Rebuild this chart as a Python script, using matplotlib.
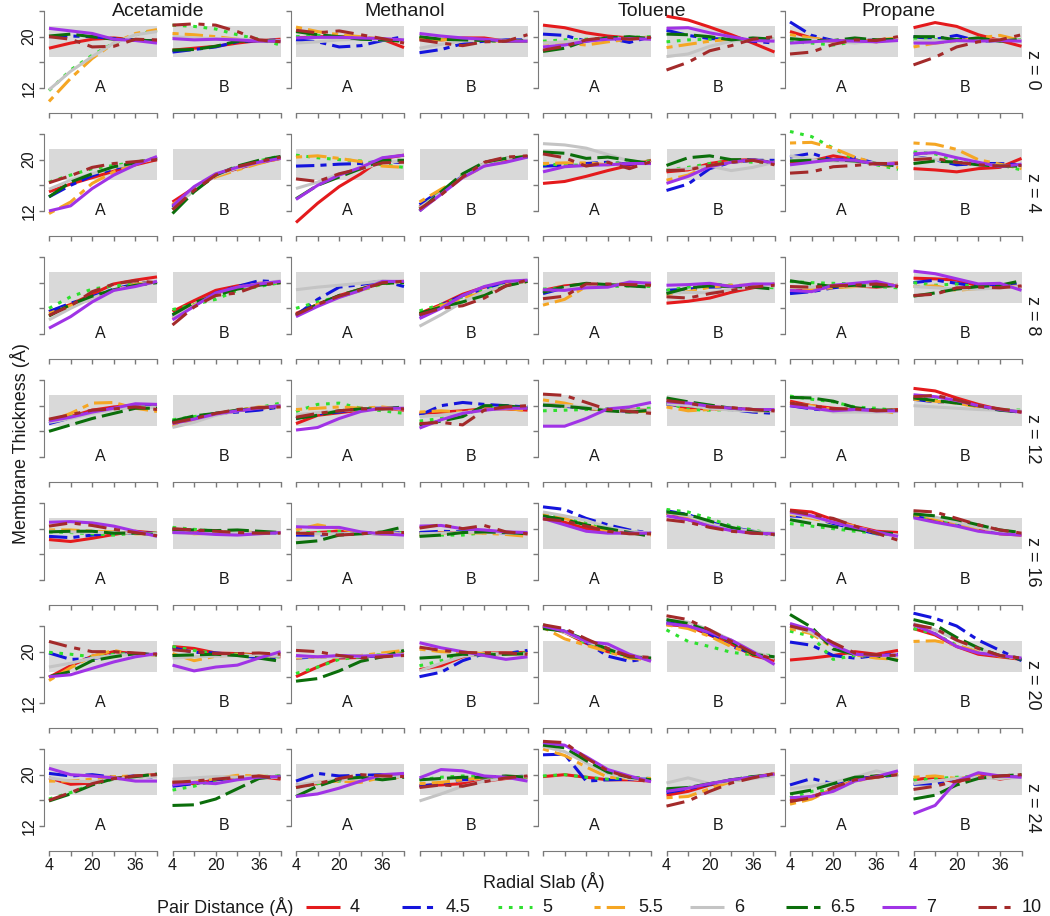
import numpy as np
import matplotlib.pyplot as plt
from matplotlib.lines import Line2D

plt.rcParams['font.family'] = ['Liberation Sans', 'DejaVu Sans']

# ---- data ----
MOLECULES = ["Acetamide", "Methanol", "Toluene", "Propane"]
SIDES = ["A", "B"]
Z_LEVELS = [0, 4, 8, 12, 16, 20, 24]
PAIR_DISTANCES = ["4", "4.5", "5", "5.5", "6", "6.5", "7", "10"]
RADIAL_SLAB = [4, 12, 20, 28, 36, 44]
BAND_LOW, BAND_HIGH = 16.9, 21.7

# each array: 7 z-levels x 8 pair distances x 6 radial slabs
ACETAMIDE_A = [
    [[18.2, 19.0, 19.6, 19.8, 19.5, 19.3], [20.0, 20.1, 20.0, 19.7, 19.5, 19.3],
     [11.6, 14.8, 17.1, 19.0, 20.3, 21.0], [9.9, 13.5, 16.6, 19.0, 20.5, 21.1],
     [11.7, 14.6, 16.9, 19.0, 20.3, 20.8], [20.1, 20.4, 20.0, 19.6, 19.5, 19.3],
     [21.3, 20.9, 20.5, 19.6, 19.4, 19.0], [20.0, 19.6, 18.4, 18.5, 19.6, 19.5]],
    [[15.0, 16.2, 17.2, 18.2, 19.2, 20.0], [14.2, 16.0, 17.5, 18.6, 19.4, 20.3],
     [16.5, 17.6, 18.6, 19.1, 19.6, 20.3], [11.6, 13.4, 16.3, 18.1, 19.3, 20.3],
     [15.4, 16.8, 17.8, 18.8, 19.5, 20.2], [14.2, 16.5, 17.8, 18.9, 19.5, 20.2],
     [12.0, 12.8, 15.5, 17.6, 19.2, 20.5], [16.4, 17.5, 18.8, 19.4, 19.7, 20.0]],
    [[15.5, 16.6, 18.2, 19.8, 20.4, 20.9], [15.5, 16.8, 17.8, 19.0, 19.8, 20.2],
     [16.0, 17.8, 19.0, 19.5, 19.8, 20.1], [15.2, 16.4, 17.5, 18.8, 19.8, 20.1],
     [14.2, 16.0, 17.6, 18.8, 19.6, 20.2], [14.8, 16.6, 17.9, 18.9, 19.6, 20.0],
     [12.9, 14.7, 17.0, 18.8, 19.4, 20.2], [14.9, 16.4, 18.6, 19.8, 20.3, 20.0]],
    [[17.8, 18.3, 19.3, 19.8, 20.1, 19.9], [17.2, 18.1, 19.0, 19.6, 19.9, 20.0],
     [17.6, 18.3, 19.0, 19.5, 19.8, 20.0], [17.5, 18.8, 20.4, 20.5, 19.6, 19.1],
     [17.4, 18.0, 18.8, 19.4, 19.8, 19.7], [16.0, 17.0, 18.0, 18.8, 19.6, 19.6],
     [17.6, 18.2, 19.0, 19.6, 20.3, 20.2], [17.9, 18.6, 19.3, 19.5, 19.8, 19.4]],
    [[18.3, 18.0, 18.5, 19.1, 19.6, 19.3], [18.8, 18.6, 19.0, 19.3, 19.3, 19.3],
     [19.5, 19.4, 19.2, 19.0, 19.3, 19.3], [19.8, 19.8, 19.6, 19.5, 19.2, 19.2],
     [19.6, 19.5, 19.4, 19.4, 19.3, 19.2], [19.5, 19.6, 19.6, 19.3, 19.3, 19.1],
     [21.0, 21.1, 20.9, 20.4, 19.6, 18.8], [20.4, 20.9, 20.5, 19.9, 19.4, 18.9]],
    [[16.0, 17.8, 19.3, 20.0, 19.7, 19.5], [19.8, 18.8, 18.9, 19.5, 19.7, 19.5],
     [19.9, 19.6, 19.2, 19.6, 19.7, 19.5], [15.5, 17.5, 19.3, 20.2, 19.5, 19.5],
     [17.6, 18.2, 19.0, 19.4, 19.6, 19.5], [16.1, 16.9, 18.6, 19.2, 19.7, 19.5],
     [16.1, 16.4, 17.4, 18.4, 19.2, 19.7], [21.6, 20.7, 20.0, 20.0, 19.8, 19.6]],
    [[19.5, 18.5, 18.7, 19.4, 19.8, 20.0], [20.2, 19.8, 20.0, 19.6, 19.8, 19.6],
     [16.2, 17.2, 18.5, 19.3, 19.6, 19.8], [19.0, 19.0, 19.3, 19.7, 19.8, 19.9],
     [19.5, 19.0, 18.9, 19.3, 19.6, 19.7], [15.9, 17.0, 18.4, 19.4, 19.7, 20.1],
     [21.0, 20.0, 19.8, 19.5, 19.0, 19.0], [16.0, 17.2, 18.6, 19.4, 19.8, 20.0]],
]

ACETAMIDE_B = [
    [[17.9, 18.2, 18.5, 19.0, 19.4, 19.6], [17.6, 18.0, 18.4, 19.2, 19.4, 19.5],
     [21.8, 21.6, 21.2, 20.3, 19.6, 18.7], [20.5, 20.3, 20.0, 19.6, 19.4, 19.3],
     [20.0, 19.8, 19.7, 19.6, 19.5, 19.4], [17.9, 18.0, 18.5, 19.3, 19.4, 19.3],
     [19.7, 19.5, 19.6, 19.5, 19.3, 19.3], [21.8, 22.0, 21.8, 20.8, 19.5, 19.2]],
    [[13.4, 15.6, 17.6, 18.6, 19.5, 20.2], [12.6, 15.5, 17.5, 18.7, 19.6, 20.4],
     [12.2, 15.3, 17.6, 18.9, 19.8, 20.6], [13.0, 15.4, 17.3, 18.4, 19.4, 20.2],
     [12.3, 15.3, 17.5, 18.7, 19.6, 20.3], [11.6, 15.0, 17.6, 19.0, 19.9, 20.5],
     [12.8, 15.8, 17.8, 18.8, 19.6, 20.2], [12.2, 15.2, 17.6, 18.9, 19.7, 20.4]],
    [[15.5, 17.2, 18.8, 19.5, 19.9, 20.0], [14.8, 16.4, 18.4, 19.4, 20.3, 20.1],
     [15.8, 16.6, 17.4, 18.8, 19.4, 20.0], [14.5, 16.5, 18.2, 19.3, 19.8, 20.1],
     [14.6, 16.4, 18.2, 19.2, 19.8, 20.3], [15.0, 16.9, 18.0, 19.0, 19.6, 20.0],
     [14.2, 16.3, 18.4, 19.3, 19.8, 20.2], [13.4, 16.2, 18.0, 18.4, 19.6, 20.0]],
    [[17.4, 18.0, 18.6, 19.2, 19.6, 19.9], [17.5, 18.1, 18.8, 19.0, 19.3, 19.8],
     [17.8, 18.3, 18.8, 19.3, 19.7, 20.4], [16.8, 17.8, 18.6, 19.3, 19.8, 19.8],
     [16.6, 17.4, 18.5, 19.2, 19.7, 20.0], [17.6, 18.4, 18.8, 19.3, 19.6, 20.0],
     [17.2, 17.9, 18.7, 19.2, 19.6, 20.0], [17.3, 18.0, 18.8, 19.4, 19.7, 19.8]],
    [[19.7, 19.6, 19.4, 19.3, 19.4, 19.4], [19.5, 19.4, 19.3, 19.3, 19.4, 19.3],
     [20.2, 19.9, 19.6, 19.4, 19.3, 19.4], [19.7, 19.2, 19.3, 19.5, 19.4, 19.4],
     [19.4, 19.3, 19.3, 19.4, 19.3, 19.4], [19.9, 19.8, 19.7, 19.8, 19.6, 19.4],
     [19.4, 19.3, 19.1, 19.0, 19.2, 19.4], [20.0, 19.8, 19.6, 19.4, 19.3, 19.3]],
    [[20.8, 20.5, 19.8, 19.7, 19.5, 19.2], [20.6, 19.9, 19.8, 19.5, 19.0, 18.8],
     [20.8, 20.2, 19.7, 19.6, 19.3, 19.2], [19.7, 18.6, 19.3, 19.5, 19.4, 19.3],
     [19.0, 19.2, 19.3, 19.4, 19.4, 19.3], [19.4, 19.5, 19.6, 19.4, 19.0, 18.5],
     [17.9, 17.0, 17.6, 17.9, 19.0, 20.0], [20.3, 20.0, 19.7, 19.7, 19.8, 19.6]],
    [[18.9, 18.6, 19.2, 19.5, 19.7, 19.3], [18.2, 18.6, 19.2, 19.5, 19.6, 19.7],
     [17.6, 18.2, 19.2, 19.5, 19.7, 19.8], [18.6, 18.8, 19.4, 19.9, 19.8, 19.6],
     [19.3, 19.5, 19.7, 19.6, 19.6, 19.6], [15.2, 15.3, 16.2, 17.8, 19.4, 19.8],
     [18.4, 18.8, 18.6, 19.2, 19.6, 19.7], [18.8, 19.0, 19.3, 19.6, 19.8, 19.4]],
]

METHANOL_A = [
    [[19.8, 20.0, 20.0, 19.8, 19.6, 18.3], [19.5, 19.2, 18.4, 18.6, 19.4, 20.0],
     [20.0, 20.2, 20.0, 19.8, 19.6, 19.4], [21.5, 20.8, 20.3, 20.0, 19.6, 19.2],
     [19.0, 19.2, 19.5, 19.6, 19.5, 19.4], [20.8, 20.3, 20.0, 19.6, 19.5, 19.3],
     [19.8, 19.9, 19.9, 19.8, 19.7, 19.5], [21.0, 20.6, 20.9, 20.3, 19.7, 19.0]],
    [[10.2, 13.2, 15.8, 17.8, 20.2, 20.7], [19.0, 19.1, 19.3, 19.4, 19.8, 19.5],
     [20.7, 20.3, 20.0, 19.8, 19.2, 18.8], [20.4, 20.6, 20.2, 19.7, 19.0, 18.8],
     [15.5, 16.5, 17.8, 18.5, 19.6, 19.8], [13.9, 16.0, 17.3, 18.6, 19.9, 19.9],
     [13.8, 16.0, 17.6, 18.8, 20.3, 20.7], [17.0, 16.6, 17.8, 18.6, 19.5, 19.6]],
    [[15.2, 16.6, 18.0, 19.0, 20.1, 20.2], [14.9, 17.4, 19.3, 19.7, 20.3, 19.4],
     [16.0, 17.0, 17.8, 18.8, 19.8, 20.1], [14.8, 16.6, 17.8, 18.8, 19.9, 20.2],
     [18.9, 19.3, 19.6, 19.9, 20.3, 20.0], [15.0, 16.6, 18.0, 19.0, 19.9, 20.0],
     [14.7, 16.3, 17.7, 18.8, 20.2, 20.2], [15.0, 16.6, 17.9, 18.9, 20.0, 20.2]],
    [[17.2, 18.5, 18.9, 19.3, 19.6, 19.3], [18.0, 18.7, 19.0, 19.6, 19.6, 19.7],
     [19.1, 20.2, 20.4, 19.6, 19.2, 18.8], [19.4, 19.6, 19.8, 19.6, 19.8, 19.4],
     [18.6, 18.9, 19.2, 19.4, 19.5, 19.5], [18.0, 18.5, 19.2, 19.5, 19.5, 19.8],
     [16.2, 16.6, 18.0, 19.1, 19.6, 19.6], [18.2, 18.8, 19.2, 19.5, 19.5, 19.5]],
    [[19.2, 19.4, 19.6, 19.3, 19.2, 19.3], [19.0, 19.0, 19.2, 19.3, 19.2, 19.4],
     [19.4, 19.4, 19.6, 19.3, 19.3, 19.4], [19.8, 20.6, 20.0, 19.4, 19.2, 19.2],
     [19.3, 19.2, 19.2, 19.3, 19.2, 19.2], [17.8, 18.1, 19.0, 19.2, 19.5, 20.3],
     [20.3, 20.2, 20.2, 19.5, 19.2, 19.0], [19.3, 19.2, 19.0, 19.2, 19.4, 19.4]],
    [[16.1, 17.6, 19.0, 19.1, 19.5, 19.8], [19.0, 19.2, 19.2, 19.2, 19.4, 19.6],
     [16.6, 17.6, 18.8, 19.2, 19.6, 19.8], [19.0, 19.2, 19.1, 19.4, 19.8, 20.2],
     [19.2, 19.2, 19.2, 19.3, 19.5, 19.6], [15.4, 15.8, 17.0, 18.5, 19.2, 20.2],
     [19.4, 19.2, 19.4, 19.3, 19.4, 19.5], [20.2, 20.0, 19.4, 19.0, 19.2, 19.4]],
    [[18.4, 18.6, 19.2, 19.4, 19.8, 19.8], [19.0, 20.2, 19.8, 19.9, 20.0, 19.5],
     [18.0, 18.6, 19.0, 19.4, 19.6, 19.8], [18.2, 18.8, 19.0, 18.8, 19.6, 19.6],
     [18.4, 18.8, 19.2, 19.4, 19.6, 19.7], [16.6, 18.2, 19.3, 19.6, 19.2, 19.6],
     [16.6, 17.0, 17.9, 19.0, 20.0, 20.2], [18.0, 18.6, 19.4, 20.0, 19.8, 19.7]],
]

METHANOL_B = [
    [[19.8, 19.5, 19.8, 19.8, 19.3, 19.3], [17.5, 18.0, 18.9, 19.3, 19.5, 19.5],
     [19.8, 19.6, 19.5, 19.4, 19.3, 19.3], [19.6, 19.5, 19.6, 19.4, 19.3, 19.3],
     [18.2, 18.8, 19.3, 19.5, 19.4, 19.4], [20.0, 19.6, 19.5, 19.4, 19.3, 19.4],
     [20.5, 20.1, 19.8, 19.6, 19.3, 19.3], [19.5, 19.0, 18.6, 19.2, 19.3, 20.3]],
    [[12.6, 15.0, 17.3, 19.4, 20.0, 20.5], [13.0, 15.2, 17.4, 19.2, 20.2, 20.4],
     [12.4, 15.0, 17.6, 19.4, 20.1, 20.5], [13.4, 15.4, 17.2, 19.0, 20.2, 20.5],
     [12.5, 14.8, 17.4, 19.4, 20.2, 20.4], [12.0, 15.0, 17.8, 19.6, 20.2, 20.5],
     [12.0, 14.6, 17.2, 19.0, 19.6, 20.4], [12.3, 14.5, 17.3, 19.6, 20.4, 20.6]],
    [[15.2, 16.6, 18.2, 19.3, 20.0, 20.2], [14.8, 16.5, 18.0, 19.0, 20.0, 20.3],
     [15.6, 16.6, 17.8, 18.8, 19.7, 20.2], [15.0, 16.4, 17.6, 18.5, 19.6, 20.2],
     [13.2, 15.0, 17.0, 18.6, 19.6, 20.3], [15.2, 16.2, 17.0, 18.0, 19.5, 20.2],
     [14.4, 16.0, 18.0, 19.4, 20.2, 20.4], [15.0, 16.0, 16.4, 17.6, 19.5, 20.4]],
    [[18.8, 19.0, 19.2, 19.5, 19.5, 19.3], [18.5, 20.0, 20.5, 20.2, 20.0, 19.8],
     [17.6, 18.0, 18.6, 19.6, 19.8, 19.9], [19.0, 19.2, 19.0, 19.4, 19.6, 19.2],
     [18.3, 18.5, 18.9, 19.3, 19.6, 19.7], [17.0, 17.6, 18.3, 20.0, 20.0, 19.6],
     [16.5, 17.8, 18.8, 19.3, 19.6, 19.6], [17.2, 17.4, 17.0, 19.3, 19.8, 20.0]],
    [[19.4, 19.4, 19.4, 19.5, 19.4, 19.2], [19.4, 19.6, 19.5, 19.6, 19.3, 19.2],
     [19.2, 19.0, 19.0, 19.4, 19.4, 19.3], [19.0, 19.3, 19.4, 19.3, 19.1, 18.8],
     [19.2, 19.3, 19.4, 19.5, 19.3, 19.2], [18.8, 19.0, 19.4, 19.5, 19.4, 19.2],
     [20.4, 20.5, 20.0, 19.8, 19.5, 19.4], [20.1, 20.6, 20.0, 20.5, 19.5, 19.2]],
    [[17.2, 17.8, 19.2, 19.8, 19.8, 19.9], [16.1, 16.8, 18.6, 19.7, 19.7, 20.2],
     [17.8, 18.6, 19.4, 19.7, 19.7, 19.8], [20.4, 20.0, 19.9, 19.7, 19.6, 19.6],
     [17.0, 18.2, 19.3, 19.6, 19.7, 19.6], [19.0, 19.2, 19.6, 19.5, 19.6, 19.7],
     [21.4, 20.6, 20.0, 19.4, 18.8, 19.2], [20.7, 20.2, 19.9, 19.8, 19.8, 19.6]],
    [[18.3, 18.4, 18.6, 19.0, 19.4, 19.6], [18.2, 18.6, 19.2, 19.4, 19.6, 19.8],
     [19.2, 19.6, 19.8, 19.7, 19.7, 19.6], [18.6, 18.8, 19.2, 19.5, 19.6, 19.7],
     [15.9, 17.0, 18.2, 19.0, 19.5, 19.7], [19.2, 19.4, 19.6, 19.6, 19.8, 19.6],
     [19.5, 20.8, 20.6, 19.8, 19.6, 19.0], [18.0, 18.4, 18.2, 18.9, 19.5, 19.8]],
]

TOLUENE_A = [
    [[21.8, 21.4, 20.6, 20.1, 19.8, 19.7], [20.4, 20.2, 19.3, 19.8, 19.1, 20.0],
     [19.3, 19.5, 19.6, 19.8, 19.9, 20.0], [19.0, 19.0, 18.7, 19.2, 19.6, 20.0],
     [19.0, 19.2, 19.4, 19.6, 19.8, 19.8], [17.7, 18.2, 19.4, 19.8, 20.0, 19.7],
     [18.4, 18.7, 19.3, 19.6, 19.7, 19.6], [17.9, 18.5, 19.5, 19.9, 19.6, 19.9]],
    [[16.3, 16.6, 17.4, 18.3, 19.1, 19.9], [19.0, 19.1, 19.4, 19.6, 19.3, 19.6],
     [19.3, 19.2, 19.1, 19.4, 19.6, 19.8], [19.4, 19.5, 19.5, 19.2, 19.4, 19.7],
     [22.5, 22.3, 21.8, 20.8, 19.8, 19.5], [21.2, 21.0, 20.2, 20.4, 19.9, 19.4],
     [18.1, 18.9, 19.1, 19.2, 19.4, 19.4], [20.9, 20.3, 19.0, 19.6, 18.6, 19.7]],
    [[18.8, 19.5, 19.8, 19.6, 19.8, 19.9], [18.3, 19.2, 19.7, 19.6, 19.8, 19.9],
     [19.0, 19.2, 19.7, 19.4, 19.5, 19.4], [16.5, 17.4, 19.4, 19.6, 19.9, 19.7],
     [18.6, 19.2, 19.6, 19.7, 19.6, 19.8], [18.5, 19.4, 19.9, 19.7, 19.5, 19.3],
     [18.9, 18.8, 19.2, 19.3, 20.1, 19.9], [17.5, 17.9, 19.8, 19.8, 19.7, 19.6]],
    [[20.2, 20.0, 19.6, 19.3, 19.3, 19.3], [20.1, 19.9, 19.6, 19.3, 19.1, 19.1],
     [19.2, 19.3, 19.4, 19.5, 19.5, 19.6], [20.9, 20.4, 19.6, 19.3, 19.1, 19.1],
     [20.2, 20.0, 19.8, 19.3, 19.2, 19.3], [20.1, 19.9, 19.6, 19.2, 19.0, 19.3],
     [16.8, 16.8, 18.0, 19.5, 19.8, 20.5], [21.8, 21.6, 20.5, 19.4, 19.1, 18.8]],
    [[21.8, 21.0, 20.0, 19.6, 19.4, 19.2], [23.4, 23.0, 21.6, 20.6, 19.8, 19.3],
     [22.2, 21.8, 21.0, 20.0, 19.6, 19.2], [22.4, 21.6, 20.6, 19.6, 19.4, 19.0],
     [22.6, 22.0, 21.3, 20.2, 19.6, 19.3], [22.0, 21.4, 20.6, 20.0, 19.4, 18.8],
     [21.6, 20.6, 19.6, 19.3, 19.3, 19.3], [21.5, 21.2, 20.4, 19.6, 19.2, 19.2]],
    [[24.0, 23.0, 21.3, 20.0, 19.4, 18.9], [24.0, 23.4, 21.5, 19.3, 18.5, 19.0],
     [24.2, 23.2, 21.2, 20.0, 19.3, 19.0], [23.8, 22.0, 21.0, 20.0, 19.0, 18.7],
     [24.2, 23.0, 21.6, 20.5, 19.5, 19.0], [23.6, 23.2, 21.8, 20.4, 19.2, 19.0],
     [24.0, 23.2, 21.6, 21.2, 19.6, 18.5], [24.2, 23.6, 22.0, 20.5, 19.3, 19.1]],
    [[19.7, 20.0, 19.6, 19.2, 19.2, 19.0], [23.1, 23.2, 19.0, 19.2, 19.3, 19.3],
     [19.8, 20.0, 19.6, 19.3, 19.6, 19.4], [24.0, 23.0, 21.2, 19.6, 19.4, 19.4],
     [24.4, 23.6, 21.8, 20.2, 19.4, 19.1], [24.6, 24.2, 22.2, 20.4, 19.6, 19.2],
     [25.0, 24.6, 22.8, 20.8, 19.8, 18.9], [25.2, 25.0, 22.6, 20.6, 19.6, 18.8]],
]

TOLUENE_B = [
    [[23.2, 22.6, 21.5, 20.3, 19.0, 17.6], [21.0, 20.2, 19.7, 19.6, 19.3, 19.0],
     [19.2, 19.5, 19.6, 19.7, 19.6, 19.6], [18.3, 18.8, 19.3, 19.6, 19.5, 19.3],
     [16.9, 17.3, 18.5, 19.3, 19.6, 19.6], [20.4, 20.3, 20.0, 19.5, 19.8, 19.6],
     [21.3, 21.4, 20.6, 20.0, 19.4, 19.3], [14.8, 16.0, 17.8, 18.6, 19.6, 20.0]],
    [[18.1, 18.4, 19.4, 19.9, 20.0, 19.4], [15.2, 16.2, 18.6, 19.6, 19.9, 19.9],
     [18.4, 18.8, 19.4, 19.8, 19.6, 19.6], [16.8, 17.6, 19.1, 19.6, 19.9, 19.6],
     [18.4, 18.6, 19.0, 18.3, 18.8, 19.6], [19.1, 20.3, 20.6, 20.0, 20.0, 19.5],
     [16.3, 17.4, 18.9, 19.6, 20.0, 19.5], [18.3, 18.4, 19.1, 19.6, 19.9, 19.2]],
    [[16.8, 17.1, 17.6, 18.5, 19.2, 19.8], [18.8, 19.0, 19.3, 19.4, 19.6, 19.7],
     [18.8, 19.3, 19.8, 19.6, 19.4, 19.2], [18.2, 18.6, 19.3, 19.6, 19.6, 19.7],
     [18.4, 18.5, 18.4, 19.0, 19.3, 19.5], [18.3, 19.2, 19.5, 19.4, 19.3, 19.0],
     [19.6, 19.7, 19.9, 19.4, 19.8, 19.8], [17.8, 17.6, 18.3, 18.8, 19.3, 19.6]],
    [[20.4, 19.6, 19.5, 19.6, 19.4, 19.2], [20.2, 20.0, 19.6, 19.4, 19.0, 18.8],
     [20.5, 19.4, 19.3, 19.4, 19.3, 19.3], [19.8, 19.2, 19.4, 19.5, 19.2, 19.2],
     [20.3, 20.0, 19.6, 19.3, 19.2, 19.2], [21.2, 20.6, 20.1, 19.6, 19.4, 19.2],
     [20.6, 20.4, 19.9, 19.6, 19.4, 19.4], [20.8, 20.4, 19.8, 19.7, 19.4, 19.2]],
    [[22.4, 21.4, 20.4, 19.8, 19.3, 19.2], [22.8, 22.2, 21.0, 20.2, 19.6, 19.1],
     [23.0, 22.6, 21.6, 20.4, 19.8, 19.1], [22.4, 21.8, 20.7, 20.0, 19.5, 19.2],
     [22.5, 22.0, 20.8, 20.0, 19.6, 19.3], [22.6, 22.2, 21.2, 20.2, 19.5, 19.0],
     [22.0, 21.4, 20.4, 19.7, 19.3, 19.2], [21.4, 21.0, 20.2, 19.6, 19.3, 19.1]],
    [[24.2, 24.0, 22.6, 21.2, 19.4, 18.6], [24.6, 24.0, 22.8, 20.8, 19.8, 19.0],
     [23.4, 21.6, 20.8, 19.9, 19.5, 19.4], [24.2, 23.6, 22.4, 20.8, 19.6, 19.0],
     [25.0, 24.6, 23.4, 21.8, 20.0, 19.0], [25.0, 24.4, 23.2, 21.6, 19.6, 19.2],
     [24.4, 24.0, 23.0, 21.8, 20.0, 18.0], [25.6, 25.0, 23.4, 21.6, 19.8, 18.8]],
    [[16.8, 17.4, 18.4, 19.0, 19.6, 20.1], [17.2, 17.8, 18.5, 19.2, 19.6, 20.0],
     [17.6, 18.0, 18.6, 19.2, 19.7, 20.0], [16.4, 16.6, 17.8, 18.9, 19.6, 20.2],
     [18.7, 19.5, 18.6, 19.0, 19.4, 19.8], [17.8, 18.0, 18.6, 19.2, 19.7, 20.0],
     [17.4, 17.9, 18.6, 19.2, 19.6, 20.1], [15.1, 15.9, 17.4, 18.7, 19.5, 20.2]],
]

PROPANE_A = [
    [[20.8, 19.8, 19.2, 19.5, 19.2, 19.8], [22.3, 20.2, 19.4, 19.3, 19.5, 19.5],
     [19.2, 19.0, 18.7, 19.2, 19.4, 19.5], [20.3, 19.8, 19.3, 19.2, 19.5, 19.8],
     [19.8, 19.5, 19.3, 19.0, 19.4, 19.6], [19.7, 19.4, 19.4, 19.8, 19.5, 19.6],
     [19.0, 19.2, 19.4, 19.3, 19.2, 19.4], [17.3, 17.6, 18.8, 19.5, 19.4, 20.0]],
    [[19.6, 19.8, 20.6, 20.0, 19.3, 19.5], [20.4, 21.0, 19.9, 20.3, 19.4, 19.2],
     [24.4, 23.6, 21.8, 20.0, 19.2, 18.5], [22.6, 22.7, 21.8, 20.4, 19.4, 18.8],
     [20.6, 20.0, 19.8, 19.7, 19.5, 19.3], [19.8, 19.9, 20.0, 19.8, 19.4, 19.0],
     [19.2, 19.6, 20.0, 19.9, 19.3, 19.4], [17.9, 18.1, 18.9, 19.1, 19.4, 19.4]],
    [[18.8, 18.9, 19.4, 19.5, 19.3, 19.6], [18.3, 18.6, 19.2, 19.6, 19.6, 19.6],
     [20.2, 20.0, 19.9, 19.8, 19.4, 19.2], [18.8, 19.0, 19.2, 19.4, 19.6, 19.7],
     [19.3, 19.3, 19.5, 19.5, 19.5, 19.5], [20.3, 19.8, 19.4, 19.6, 19.4, 19.6],
     [18.8, 18.6, 19.6, 19.9, 20.2, 19.4], [19.4, 19.3, 19.5, 19.6, 19.8, 19.4]],
    [[20.7, 20.0, 19.6, 19.3, 19.2, 19.4], [20.0, 19.5, 19.2, 19.4, 19.3, 19.0],
     [21.5, 21.0, 20.6, 19.8, 19.6, 19.2], [20.4, 20.0, 19.4, 19.2, 19.3, 18.8],
     [20.2, 19.8, 19.0, 19.0, 19.0, 19.1], [21.3, 21.2, 20.7, 19.7, 19.3, 19.3],
     [20.0, 19.6, 19.2, 19.4, 19.2, 19.2], [20.4, 20.0, 19.5, 19.5, 19.2, 19.3]],
    [[22.9, 22.6, 21.4, 20.4, 19.6, 19.4], [22.0, 21.8, 20.8, 20.0, 19.2, 19.0],
     [20.8, 20.4, 20.0, 19.6, 19.3, 18.9], [22.2, 21.6, 21.0, 20.4, 19.4, 19.0],
     [22.4, 21.8, 21.0, 20.2, 19.4, 19.0], [21.4, 20.8, 20.3, 19.9, 19.4, 19.2],
     [22.6, 22.0, 21.0, 20.2, 19.5, 18.8], [22.8, 22.2, 21.6, 20.4, 19.3, 18.2]],
    [[18.7, 19.0, 19.4, 20.0, 19.6, 20.2], [21.5, 21.0, 19.4, 19.0, 19.4, 19.6],
     [23.2, 22.4, 18.8, 19.4, 19.3, 19.0], [23.6, 22.8, 20.6, 19.5, 19.0, 18.8],
     [24.0, 23.0, 21.0, 19.6, 19.4, 19.2], [25.8, 23.8, 20.4, 19.6, 19.4, 18.6],
     [24.4, 23.4, 21.0, 19.6, 19.4, 19.5], [24.0, 23.2, 21.4, 19.8, 19.5, 19.4]],
    [[16.0, 16.6, 17.6, 19.2, 19.8, 20.0], [18.4, 19.4, 18.6, 19.4, 19.6, 20.0],
     [16.4, 17.4, 17.6, 19.0, 19.8, 20.0], [15.4, 16.2, 17.8, 19.0, 19.6, 20.2],
     [17.8, 18.2, 18.8, 19.6, 20.6, 19.8], [17.0, 17.6, 18.6, 19.6, 19.8, 20.0],
     [16.4, 16.6, 17.4, 19.0, 19.7, 20.6], [15.8, 16.4, 18.0, 19.2, 19.6, 20.0]],
]

PROPANE_B = [
    [[21.4, 22.2, 21.6, 20.3, 19.4, 18.5], [20.0, 19.6, 20.2, 19.3, 19.4, 19.5],
     [19.6, 19.5, 19.6, 19.4, 19.4, 19.5], [18.4, 19.0, 19.3, 19.8, 20.2, 19.4],
     [19.3, 19.4, 19.3, 19.4, 19.5, 19.4], [20.0, 20.0, 19.5, 19.8, 19.3, 19.6],
     [19.0, 19.0, 19.4, 19.3, 19.4, 19.3], [15.6, 16.8, 18.4, 19.2, 19.5, 20.3]],
    [[18.6, 18.4, 18.1, 18.6, 18.8, 20.2], [20.5, 20.0, 19.2, 19.4, 19.4, 19.2],
     [21.2, 20.9, 19.9, 19.4, 19.2, 18.4], [22.6, 22.4, 21.6, 20.0, 19.3, 18.6],
     [20.4, 20.0, 19.6, 19.3, 19.1, 19.0], [19.4, 19.8, 19.6, 19.2, 19.0, 19.0],
     [20.9, 21.1, 20.3, 19.6, 18.9, 19.3], [20.0, 20.2, 19.6, 19.2, 19.0, 19.1]],
    [[20.7, 20.6, 20.4, 19.5, 19.3, 19.4], [20.0, 20.4, 19.9, 19.4, 19.6, 19.8],
     [20.0, 19.6, 19.8, 19.3, 19.5, 19.2], [19.4, 19.5, 18.8, 19.1, 19.3, 19.5],
     [19.4, 19.2, 19.0, 19.0, 19.2, 19.4], [17.9, 18.4, 19.0, 19.4, 19.6, 20.3],
     [21.8, 21.4, 20.6, 19.8, 19.9, 18.8], [18.0, 18.2, 19.2, 19.3, 19.2, 19.5]],
    [[22.7, 22.3, 21.2, 20.2, 19.4, 19.0], [21.0, 20.6, 20.6, 19.8, 19.3, 19.0],
     [21.3, 20.9, 20.5, 19.9, 19.4, 19.3], [21.0, 20.7, 20.4, 19.8, 19.4, 19.1],
     [20.0, 19.8, 19.6, 19.4, 19.3, 19.2], [21.2, 20.8, 20.4, 20.0, 19.3, 19.0],
     [21.7, 21.4, 20.8, 20.0, 19.4, 19.0], [21.4, 21.6, 20.9, 20.0, 19.5, 19.0]],
    [[22.0, 21.4, 20.8, 20.0, 19.2, 19.0], [22.0, 21.6, 20.8, 20.2, 19.4, 19.2],
     [22.0, 21.5, 20.8, 20.2, 19.5, 19.2], [22.2, 21.6, 20.6, 19.8, 19.4, 19.0],
     [22.4, 21.8, 21.0, 20.2, 19.6, 19.2], [22.3, 22.0, 21.4, 20.6, 19.8, 19.4],
     [21.7, 21.0, 20.4, 19.6, 19.2, 19.0], [22.8, 22.6, 21.6, 20.6, 19.8, 19.3]],
    [[23.6, 22.6, 20.8, 19.6, 19.2, 18.8], [26.0, 25.2, 24.0, 21.8, 20.2, 18.6],
     [23.6, 22.8, 21.0, 19.8, 19.4, 19.0], [21.6, 21.7, 21.0, 20.0, 19.3, 19.0],
     [24.4, 23.4, 21.8, 20.4, 19.4, 18.9], [25.0, 24.2, 22.2, 20.6, 19.4, 18.8],
     [24.2, 22.8, 20.8, 19.8, 19.4, 19.0], [24.2, 23.6, 21.8, 20.5, 19.4, 19.0]],
    [[19.2, 19.6, 18.8, 20.0, 19.3, 19.8], [18.5, 18.6, 19.4, 19.5, 19.6, 19.7],
     [19.2, 19.4, 19.6, 19.8, 19.6, 19.7], [19.6, 19.8, 19.4, 19.8, 19.5, 19.7],
     [18.6, 19.0, 19.4, 19.6, 19.4, 19.6], [16.2, 16.8, 18.4, 19.4, 19.8, 20.0],
     [13.9, 15.2, 19.0, 20.3, 19.8, 19.6], [17.7, 18.2, 19.0, 19.5, 19.8, 20.0]],
]

PANEL_DATA = [ACETAMIDE_A, ACETAMIDE_B, METHANOL_A, METHANOL_B,
              TOLUENE_A, TOLUENE_B, PROPANE_A, PROPANE_B]

# ---- styles ----
COLORS = ['#e41a1c', '#1414dc', '#2ee02e', '#f5a623',
          '#c4c4c4', '#0b6e0b', '#a033e6', '#a32a2a']
DASHES = ['-', (0, (6, 2, 2, 2)), (0, (1.2, 2.2)), (0, (2, 2, 6, 2)),
          '-', (0, (7, 2)), '-', (0, (6, 2.5, 2, 2.5))]
LW = 2.2
AXIS_COLOR = '#7a7a7a'
TEXT_COLOR = '#1a1a1a'

W, H = 1050, 916
fig = plt.figure(figsize=(W / 100, H / 100), dpi=100)


def px_axes(left, top, width, height):
    return fig.add_axes([left / W, 1 - (top + height) / H, width / W, height / H])


COL_STEP, ROW_STEP = 123.5, 123
for r, z in enumerate(Z_LEVELS):
    for c, data in enumerate(PANEL_DATA):
        ax = px_axes(49 + COL_STEP * c, 11 + ROW_STEP * r - 16, 108, 109)
        ax.set_xlim(4, 44)
        ax.set_ylim(9.5, 26.5)
        ax.axhspan(BAND_LOW, BAND_HIGH, color='#d9d9d9', lw=0, zorder=0)
        for k in range(len(PAIR_DISTANCES)):
            ax.plot(RADIAL_SLAB, data[r][k], color=COLORS[k], ls=DASHES[k],
                    lw=LW, clip_on=False, solid_capstyle='butt',
                    dash_capstyle='butt', zorder=2)
        ax.text(23, 12, SIDES[c % 2], ha='center', va='center',
                fontsize=11.5, color=TEXT_COLOR)

        ax.patch.set_visible(False)
        for s in ('top', 'right'):
            ax.spines[s].set_visible(False)
        ax.spines['bottom'].set_position(('outward', 6.5))
        ax.spines['bottom'].set_bounds(4, 44)
        ax.spines['bottom'].set_color(AXIS_COLOR)
        ax.set_xticks(np.arange(4, 45, 8))
        if r == len(Z_LEVELS) - 1 and c not in (3, 4):
            ax.set_xticklabels(['4', '', '20', '', '36', ''])
        else:
            ax.set_xticklabels([])
        ax.tick_params(axis='x', direction='out', length=3.5, width=1,
                       color=AXIS_COLOR, labelsize=11.5, labelcolor=TEXT_COLOR,
                       pad=1.5)

        if c % 2 == 0:
            ax.spines['left'].set_position(('outward', 3.6))
            ax.spines['left'].set_bounds(12, 24)
            ax.spines['left'].set_color(AXIS_COLOR)
            ax.set_yticks([12, 16, 20, 24])
            if c == 0 and r in (0, 1, 5, 6):
                ax.set_yticklabels(['12', '', '20', ''], rotation=90, va='center')
            else:
                ax.set_yticklabels([])
            ax.tick_params(axis='y', direction='out', length=3.5, width=1,
                           color=AXIS_COLOR, labelsize=11.5,
                           labelcolor=TEXT_COLOR, pad=2)
        else:
            ax.spines['left'].set_visible(False)
            ax.set_yticks([])

    fig.text(1033 / W, 1 - (70 + ROW_STEP * r) / H, f"z = {z}", rotation=-90,
             ha='center', va='center', fontsize=13, color=TEXT_COLOR)

# molecule titles
for g, name in enumerate(MOLECULES):
    xc = 49 + COL_STEP * 2 * g + (COL_STEP + 108) / 2 - 7
    fig.text(xc / W, 1 - 12 / H, name, ha='center', va='center',
             fontsize=14, color=TEXT_COLOR)

fig.text(20 / W, 1 - 444 / H, "Membrane Thickness (Å)", rotation=90,
         ha='center', va='center', fontsize=13, color=TEXT_COLOR)
fig.text(544 / W, 1 - 882 / H, "Radial Slab (Å)", ha='center', va='center',
         fontsize=13, color=TEXT_COLOR)

# legend row
LEG_Y = 1 - 907 / H
fig.text(157 / W, LEG_Y, "Pair Distance (Å)", ha='left', va='center',
         fontsize=13, color=TEXT_COLOR)
for k, label in enumerate(PAIR_DISTANCES):
    x0 = 306 + 96 * k
    fig.add_artist(Line2D([x0 / W, (x0 + 34) / W], [LEG_Y, LEG_Y],
                          transform=fig.transFigure, color=COLORS[k],
                          ls=DASHES[k], lw=LW, solid_capstyle='butt',
                          dash_capstyle='butt'))
    fig.text((x0 + 44) / W, LEG_Y, label, ha='left', va='center',
             fontsize=13, color=TEXT_COLOR)

fig.savefig("out.png", dpi=100)
